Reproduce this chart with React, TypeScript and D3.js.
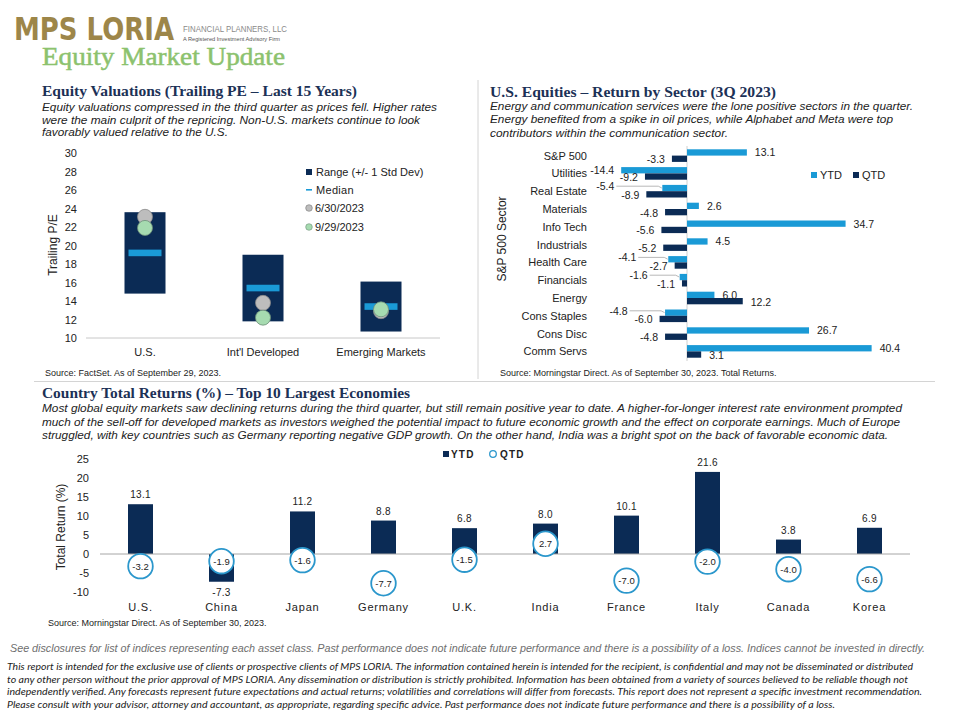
import React from "react";
import * as d3 from "d3";

// ---------- DATA ----------
const valCats = ["U.S.", "Int'l Developed", "Emerging Markets"];
const rangeHigh = [23.6, 19.0, 16.1];
const rangeLow = [14.8, 11.8, 10.7];
const medianPE = [19.2, 15.4, 13.4];
const pe0630 = [23.1, 13.8, 12.9];
const pe0929 = [21.9, 12.2, 13.1];
const peTicks = [10, 12, 14, 16, 18, 20, 22, 24, 26, 28, 30];

const sectors = ["S&P 500", "Utilities", "Real Estate", "Materials", "Info Tech", "Industrials", "Health Care", "Financials", "Energy", "Cons Staples", "Cons Disc", "Comm Servs"];
const sectorYTD = [13.1, -14.4, -5.4, 2.6, 34.7, 4.5, -4.1, -1.6, 6.0, -4.8, 26.7, 40.4];
const sectorQTD = [-3.3, -9.2, -8.9, -4.8, -5.6, -5.2, -2.7, -1.1, 12.2, -6.0, -4.8, 3.1];

const countries = ["U.S.", "China", "Japan", "Germany", "U.K.", "India", "France", "Italy", "Canada", "Korea"];
const countryYTD = [13.1, -7.3, 11.2, 8.8, 6.8, 8.0, 10.1, 21.6, 3.8, 6.9];
const countryQTD = [-3.2, -1.9, -1.6, -7.7, -1.5, 2.7, -7.0, -2.0, -4.0, -6.6];
const retTicks = [-10, -5, 0, 5, 10, 15, 20, 25];

// ---------- STYLE ----------
const NAVY = "#0b2b55";
const LBLUE = "#1a9ad6";
const TITLE = "#1c3156";
const SANS = "'Liberation Sans', Arial, sans-serif";
const SERIF = "'Liberation Serif', 'Times New Roman', serif";

const fmt = (v: number) => v.toFixed(1);

function Line({ x, y, w, text, size = 11, italic = true, fill = "#222", family = SANS, weight = "normal" }: any) {
  return (
    <text x={x} y={y} fontFamily={family} fontSize={size} fontStyle={italic ? "italic" : "normal"} fontWeight={weight} fill={fill}
      textLength={w} lengthAdjust="spacingAndGlyphs">{text}</text>
  );
}

function Valuations() {
  const y = d3.scaleLinear().domain([10, 30]).range([338, 153]);
  const x = d3.scaleBand().domain(valCats).range([86, 440]).padding(0);
  const bw = 41;
  return (
    <g>
      <line x1={86} x2={440} y1={y(10)} y2={y(10)} stroke="#c8c8c8" />
      {peTicks.map((t) => (
        <text key={t} x={77} y={y(t) + 4} textAnchor="end" fontFamily={SANS} fontSize={11} fill="#222">{t}</text>
      ))}
      <text transform={`translate(57,245) rotate(-90)`} textAnchor="middle" fontFamily={SANS} fontSize={12} fill="#222">Trailing P/E</text>
      {valCats.map((c, i) => {
        const cx = (x(c) as number) + x.bandwidth() / 2;
        return (
          <g key={c}>
            <rect x={cx - bw / 2} y={y(rangeHigh[i])} width={bw} height={y(rangeLow[i]) - y(rangeHigh[i])} fill={NAVY} />
            <rect x={cx - 16.5} y={y(medianPE[i]) - 3.3} width={33} height={6.6} fill={LBLUE} />
            <circle cx={cx} cy={y(pe0630[i])} r={7.5} fill="#bdbdbd" stroke="#8a8a8a" strokeWidth={0.8} />
            <circle cx={cx} cy={y(pe0929[i])} r={7.5} fill="#a6dbb0" stroke="#6d8f78" strokeWidth={0.8} />
            <text x={cx} y={356} textAnchor="middle" fontFamily={SANS} fontSize={11} fill="#222">{c}</text>
          </g>
        );
      })}
      {/* legend */}
      <rect x={306} y={169} width={6} height={6} fill={NAVY} />
      <text x={316} y={176} fontFamily={SANS} fontSize={11} fill="#222">Range (+/- 1 Std Dev)</text>
      <rect x={306} y={189} width={6} height={1.6} fill={LBLUE} />
      <text x={316} y={194} fontFamily={SANS} fontSize={11} fill="#222" letterSpacing={0.3}>Median</text>
      <circle cx={309} cy={208} r={3.3} fill="#bdbdbd" stroke="#777" strokeWidth={0.6} />
      <text x={315} y={212} fontFamily={SANS} fontSize={11} fill="#222">6/30/2023</text>
      <circle cx={309} cy={227} r={3.3} fill="#a6dbb0" stroke="#6d8f78" strokeWidth={0.6} />
      <text x={315} y={231} fontFamily={SANS} fontSize={11} fill="#222">9/29/2023</text>
      <text x={45} y={376} fontFamily={SANS} fontSize={9} fill="#222">Source: FactSet. As of September 29, 2023.</text>
    </g>
  );
}

function Sectors() {
  const x = d3.scaleLinear().domain([-15, 42]).range([687 - 15 * 4.57, 687 + 42 * 4.57]);
  const y = d3.scaleBand().domain(sectors).range([146.7, 360.3]).padding(0);
  const bh = 6.3;
  const fs = 10.5;
  return (
    <g>
      <line x1={x(0)} x2={x(0)} y1={146} y2={361} stroke="#d0d0d0" />
      {sectors.map((s, i) => {
        const c = (y(s) as number) + y.bandwidth() / 2;
        const a = sectorYTD[i], b = sectorQTD[i];
        // when both are negative and close together, the YTD label is pulled out with a leader line
        const lead = a < 0 && b < 0 && Math.abs(a - b) < 5;
        const ax = a >= 0 ? x(a) + 8 : lead ? Math.min(x(a), x(b)) - 32 : x(a) - 7;
        const ay = lead ? c - 1 : c + 0.7;
        const bx = b >= 0 ? x(b) + 8 : x(b) - 7;
        const by = c + 7.5;
        return (
          <g key={s}>
            <rect x={Math.min(x(0), x(a))} y={c - bh} width={Math.abs(x(a) - x(0))} height={bh} fill={LBLUE} />
            <rect x={Math.min(x(0), x(b))} y={c} width={Math.abs(x(b) - x(0))} height={bh} fill={NAVY} />
            <text x={587} y={c + 4} textAnchor="end" fontFamily={SANS} fontSize={11} fill="#222">{s}</text>
            {lead && (
              <polyline points={`${ax + 2},${c - 5} ${x(a) - 4},${c - 5} ${x(a) - 0.5},${c - 3.2}`}
                fill="none" stroke="#a6a6a6" strokeWidth={0.8} />
            )}
            <text x={ax} y={ay} textAnchor={a >= 0 ? "start" : "end"} fontFamily={SANS} fontSize={fs} fill="#222">{fmt(a)}</text>
            <text x={bx} y={by} textAnchor={b >= 0 ? "start" : "end"} fontFamily={SANS} fontSize={fs} fill="#222">{fmt(b)}</text>
          </g>
        );
      })}
      <text transform={`translate(506,239) rotate(-90)`} textAnchor="middle" fontFamily={SANS} fontSize={12} fill="#222">S&amp;P 500 Sector</text>
      <rect x={811} y={172} width={6} height={6} fill={LBLUE} />
      <text x={820} y={179} fontFamily={SANS} fontSize={11} fill="#222">YTD</text>
      <rect x={853} y={172} width={6} height={6} fill={NAVY} />
      <text x={862} y={179} fontFamily={SANS} fontSize={11} fill="#222">QTD</text>
      <text x={500} y={376} fontFamily={SANS} fontSize={9} fill="#222">Source: Morningstar Direct. As of September 30, 2023. Total Returns.</text>
    </g>
  );
}

function Countries() {
  const y = d3.scaleLinear().domain([-10, 25]).range([592, 459]);
  const x = d3.scaleBand().domain(countries).range([100, 910]).padding(0);
  const bw = 25;
  return (
    <g>
      {retTicks.map((t) => (
        <text key={t} x={89} y={y(t) + 4} textAnchor="end" fontFamily={SANS} fontSize={11} fill="#222">{t}</text>
      ))}
      <text transform={`translate(65,527) rotate(-90)`} textAnchor="middle" fontFamily={SANS} fontSize={12} fill="#222">Total Return (%)</text>
      {countries.map((c, i) => {
        const cx = (x(c) as number) + x.bandwidth() / 2;
        const v = countryYTD[i];
        return (
          <g key={c}>
            <rect x={cx - bw / 2} y={Math.min(y(0), y(v))} width={bw} height={Math.abs(y(v) - y(0))} fill={NAVY} />
            <text x={cx} y={v >= 0 ? y(v) - 6 : y(v) + 14} textAnchor="middle" fontFamily={SANS} fontSize={10} fill="#222" letterSpacing={0.3}>{fmt(v)}</text>
            <text x={cx} y={611} textAnchor="middle" fontFamily={SANS} fontSize={11} fill="#222" letterSpacing={0.8}>{c}</text>
          </g>
        );
      })}
      <line x1={100} x2={910} y1={y(0)} y2={y(0)} stroke="#a6a6a6" />
      {countries.map((c, i) => {
        const cx = (x(c) as number) + x.bandwidth() / 2;
        const v = countryQTD[i];
        return (
          <g key={c + "q"}>
            <circle cx={cx} cy={y(v)} r={12.3} fill="#fff" stroke="#2b97cc" strokeWidth={1.8} />
            <text x={cx} y={y(v) + 3.5} textAnchor="middle" fontFamily={SANS} fontSize={9.5} fill="#222">{fmt(v)}</text>
          </g>
        );
      })}
      <rect x={443} y={451} width={6} height={6} fill={NAVY} />
      <text x={451} y={458} fontFamily={SANS} fontSize={10} fontWeight="bold" fill="#222" letterSpacing={1.2}>YTD</text>
      <circle cx={493} cy={454} r={3.3} fill="#fff" stroke="#2b97cc" strokeWidth={1.3} />
      <text x={500} y={458} fontFamily={SANS} fontSize={10} fontWeight="bold" fill="#222" letterSpacing={1.2}>QTD</text>
      <text x={48} y={626} fontFamily={SANS} fontSize={9} fill="#222">Source: Morningstar Direct. As of September 30, 2023.</text>
    </g>
  );
}

export default function App() {
  return (
    <svg width={960} height={720} viewBox="0 0 960 720" style={{ position: "absolute", left: 0, top: 0, background: "#fff" }}>
      <defs>
        <linearGradient id="rule" x1="0" x2="1" y1="0" y2="0">
          <stop offset="0" stopColor="#2f8a5a" />
          <stop offset="0.6" stopColor="#5a9a78" />
          <stop offset="1" stopColor="#e8ece8" />
        </linearGradient>
      </defs>
      <rect width={960} height={720} fill="#fff" />
      {/* header */}
      <line x1={15} x2={395} y1={35.5} y2={35.5} stroke="url(#rule)" strokeWidth={1.6} />
      <g transform="translate(14,40) scale(1,1.45)">
        <text x={0} y={0} fontFamily="'DejaVu Sans', sans-serif" fontWeight="bold" fontSize={22} fill="#9d8649"
          textLength={160} lengthAdjust="spacingAndGlyphs">MPS LORIA</text>
      </g>
      <text x={183} y={32} fontFamily={SANS} fontSize={9.5} fill="#8a8a8a" textLength={104} lengthAdjust="spacingAndGlyphs">FINANCIAL PLANNERS, LLC</text>
      <text x={183} y={40.5} fontFamily={SANS} fontSize={4.8} fill="#555" textLength={97} lengthAdjust="spacingAndGlyphs">A Registered Investment Advisory Firm</text>
      <text x={42} y={64.5} fontFamily={SERIF} fontSize={25} fill="#8cc26e" stroke="#8cc26e" strokeWidth={0.5} textLength={243} lengthAdjust="spacingAndGlyphs">Equity Market Update</text>

      {/* dividers */}
      <line x1={478} x2={478} y1={80} y2={379} stroke="#d4d4d4" />
      <line x1={34} x2={935} y1={381.5} y2={381.5} stroke="#d4d4d4" />

      {/* left panel text */}
      <Line x={42} y={96} w={315} text="Equity Valuations (Trailing PE – Last 15 Years)" size={14.5} italic={false} fill={TITLE} family={SERIF} weight="bold" />
      <Line x={42} y={111} w={395} text="Equity valuations compressed in the third quarter as prices fell. Higher rates" />
      <Line x={42} y={123.5} w={378} text="were the main culprit of the repricing. Non-U.S. markets continue to look" />
      <Line x={42} y={136} w={186} text="favorably valued relative to the U.S." />

      {/* right panel text */}
      <Line x={490} y={97} w={286} text="U.S. Equities – Return by Sector (3Q 2023)" size={14.5} italic={false} fill={TITLE} family={SERIF} weight="bold" />
      <Line x={490} y={110} w={423} text="Energy and communication services were the lone positive sectors in the quarter." />
      <Line x={490} y={123} w={403} text="Energy benefited from a spike in oil prices, while Alphabet and Meta were top" />
      <Line x={490} y={136.5} w={238} text="contributors within the communication sector." />

      {/* bottom panel text */}
      <Line x={42} y={398} w={368} text="Country Total Returns (%) – Top 10 Largest Economies" size={14.5} italic={false} fill={TITLE} family={SERIF} weight="bold" />
      <Line x={42} y={412} w={860} text="Most global equity markets saw declining returns during the third quarter, but still remain positive year to date. A higher-for-longer interest rate environment prompted" />
      <Line x={42} y={425.5} w={858} text="much of the sell-off for developed markets as investors weighed the potential impact to future economic growth and the effect on corporate earnings. Much of Europe" />
      <Line x={42} y={439} w={846} text="struggled, with key countries such as Germany reporting negative GDP growth. On the other hand, India was a bright spot on the back of favorable economic data." />

      <Valuations />
      <Sectors />
      <Countries />

      {/* footer */}
      <Line x={10} y={652} w={915} size={10.5} fill="#6e6e6e" text="See disclosures for list of indices representing each asset class. Past performance does not indicate future performance and there is a possibility of a loss. Indices cannot be invested in directly." />
      <Line x={7} y={670} w={906} size={9.5} family="Lato, sans-serif" fill="#222" text="This report is intended for the exclusive use of clients or prospective clients of MPS LORIA. The information contained herein is intended for the recipient, is confidential and may not be disseminated or distributed" />
      <Line x={7} y={682.5} w={901} size={9.5} family="Lato, sans-serif" fill="#222" text="to any other person without the prior approval of MPS LORIA. Any dissemination or distribution is strictly prohibited. Information has been obtained from a variety of sources believed to be reliable though not" />
      <Line x={7} y={695} w={915} size={9.5} family="Lato, sans-serif" fill="#222" text="independently verified. Any forecasts represent future expectations and actual returns; volatilities and correlations will differ from forecasts. This report does not represent a specific investment recommendation." />
      <Line x={7} y={707.5} w={828} size={9.5} family="Lato, sans-serif" fill="#222" text="Please consult with your advisor, attorney and accountant, as appropriate, regarding specific advice. Past performance does not indicate future performance and there is a possibility of a loss." />
    </svg>
  );
}
